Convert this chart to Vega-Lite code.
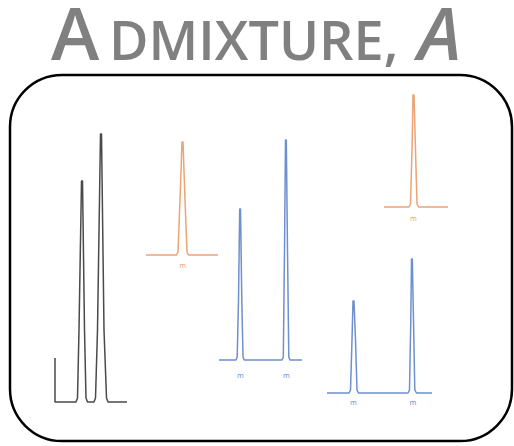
{
  "$schema": "https://vega.github.io/schema/vega-lite/v6.json",
  "width": 514,
  "height": 446,
  "padding": 0,
  "autosize": {"type": "fit", "contains": "padding"},
  "background": "white",
  "config": {"view": {"stroke": null}},
  "datasets": {
    "traces": [
      {"trace": "black", "i": 1, "x": 55, "y": 358},
      {"trace": "black", "i": 2, "x": 55, "y": 402},
      {"trace": "black", "i": 3, "x": 76, "y": 402},
      {"trace": "black", "i": 4, "x": 77.5, "y": 398},
      {"trace": "black", "i": 5, "x": 79, "y": 330},
      {"trace": "black", "i": 6, "x": 81.5, "y": 181},
      {"trace": "black", "i": 7, "x": 82.5, "y": 181},
      {"trace": "black", "i": 8, "x": 84.5, "y": 330},
      {"trace": "black", "i": 9, "x": 86, "y": 398},
      {"trace": "black", "i": 10, "x": 87.5, "y": 402},
      {"trace": "black", "i": 11, "x": 94, "y": 402},
      {"trace": "black", "i": 12, "x": 95.5, "y": 398},
      {"trace": "black", "i": 13, "x": 97.5, "y": 330},
      {"trace": "black", "i": 14, "x": 100.5, "y": 134},
      {"trace": "black", "i": 15, "x": 101.5, "y": 134},
      {"trace": "black", "i": 16, "x": 104, "y": 330},
      {"trace": "black", "i": 17, "x": 106.5, "y": 398},
      {"trace": "black", "i": 18, "x": 108, "y": 402},
      {"trace": "black", "i": 19, "x": 127, "y": 402},

      {"trace": "orange1", "i": 1, "x": 146, "y": 255},
      {"trace": "orange1", "i": 2, "x": 176.5, "y": 255},
      {"trace": "orange1", "i": 3, "x": 178, "y": 252},
      {"trace": "orange1", "i": 4, "x": 180, "y": 200},
      {"trace": "orange1", "i": 5, "x": 182, "y": 142},
      {"trace": "orange1", "i": 6, "x": 183, "y": 142},
      {"trace": "orange1", "i": 7, "x": 185, "y": 200},
      {"trace": "orange1", "i": 8, "x": 187, "y": 252},
      {"trace": "orange1", "i": 9, "x": 188.5, "y": 255},
      {"trace": "orange1", "i": 10, "x": 218, "y": 255},

      {"trace": "blue1", "i": 1, "x": 219, "y": 360},
      {"trace": "blue1", "i": 2, "x": 236, "y": 360},
      {"trace": "blue1", "i": 3, "x": 237.2, "y": 357},
      {"trace": "blue1", "i": 4, "x": 238.5, "y": 300},
      {"trace": "blue1", "i": 5, "x": 239.7, "y": 209},
      {"trace": "blue1", "i": 6, "x": 240.5, "y": 209},
      {"trace": "blue1", "i": 7, "x": 241.8, "y": 300},
      {"trace": "blue1", "i": 8, "x": 243, "y": 357},
      {"trace": "blue1", "i": 9, "x": 244.3, "y": 360},
      {"trace": "blue1", "i": 10, "x": 282, "y": 360},
      {"trace": "blue1", "i": 11, "x": 283.3, "y": 357},
      {"trace": "blue1", "i": 12, "x": 284.5, "y": 250},
      {"trace": "blue1", "i": 13, "x": 285.5, "y": 140},
      {"trace": "blue1", "i": 14, "x": 286.3, "y": 140},
      {"trace": "blue1", "i": 15, "x": 287.5, "y": 250},
      {"trace": "blue1", "i": 16, "x": 288.8, "y": 357},
      {"trace": "blue1", "i": 17, "x": 290, "y": 360},
      {"trace": "blue1", "i": 18, "x": 302, "y": 360},

      {"trace": "blue2", "i": 1, "x": 327, "y": 393},
      {"trace": "blue2", "i": 2, "x": 349, "y": 393},
      {"trace": "blue2", "i": 3, "x": 350.5, "y": 390},
      {"trace": "blue2", "i": 4, "x": 352, "y": 340},
      {"trace": "blue2", "i": 5, "x": 353, "y": 301},
      {"trace": "blue2", "i": 6, "x": 354, "y": 301},
      {"trace": "blue2", "i": 7, "x": 355.5, "y": 340},
      {"trace": "blue2", "i": 8, "x": 357, "y": 390},
      {"trace": "blue2", "i": 9, "x": 358.5, "y": 393},
      {"trace": "blue2", "i": 10, "x": 408, "y": 393},
      {"trace": "blue2", "i": 11, "x": 409.5, "y": 390},
      {"trace": "blue2", "i": 12, "x": 410.8, "y": 320},
      {"trace": "blue2", "i": 13, "x": 411.5, "y": 259},
      {"trace": "blue2", "i": 14, "x": 412.3, "y": 259},
      {"trace": "blue2", "i": 15, "x": 413.5, "y": 320},
      {"trace": "blue2", "i": 16, "x": 414.8, "y": 390},
      {"trace": "blue2", "i": 17, "x": 416.5, "y": 393},
      {"trace": "blue2", "i": 18, "x": 432, "y": 393},

      {"trace": "orange2", "i": 1, "x": 384, "y": 207},
      {"trace": "orange2", "i": 2, "x": 409, "y": 207},
      {"trace": "orange2", "i": 3, "x": 410.5, "y": 204},
      {"trace": "orange2", "i": 4, "x": 412, "y": 150},
      {"trace": "orange2", "i": 5, "x": 413, "y": 95},
      {"trace": "orange2", "i": 6, "x": 414, "y": 95},
      {"trace": "orange2", "i": 7, "x": 415.5, "y": 150},
      {"trace": "orange2", "i": 8, "x": 417, "y": 204},
      {"trace": "orange2", "i": 9, "x": 418.5, "y": 207},
      {"trace": "orange2", "i": 10, "x": 448, "y": 207}
    ],
    "labels": [
      {"trace": "orange1", "x": 182.7, "y": 266, "t": "m"},
      {"trace": "blue1", "x": 240.5, "y": 376, "t": "m"},
      {"trace": "blue1", "x": 286.3, "y": 376, "t": "m"},
      {"trace": "blue2", "x": 353.3, "y": 403, "t": "m"},
      {"trace": "blue2", "x": 412.8, "y": 403, "t": "m"},
      {"trace": "orange2", "x": 413.5, "y": 219, "t": "m"}
    ],
    "box": [{"x": 10, "x2": 512, "y": 75, "y2": 441}],
    "title": [
      {"x": 75, "y": 60, "t": "A", "part": "big"},
      {"x": 109, "y": 60, "t": "DMIXTURE,", "part": "small"},
      {"x": 418, "y": 60, "t": "A", "part": "italic"}
    ]
  },
  "layer": [
    {
      "data": {"name": "box"},
      "mark": {"type": "rect", "cornerRadius": 52, "fill": "transparent", "stroke": "#000000", "strokeWidth": 2.5},
      "encoding": {
        "x": {"field": "x", "type": "quantitative", "scale": {"domain": [0, 514], "nice": false, "zero": false}, "axis": null},
        "x2": {"field": "x2"},
        "y": {"field": "y", "type": "quantitative", "scale": {"domain": [0, 446], "reverse": true, "nice": false, "zero": false}, "axis": null},
        "y2": {"field": "y2"}
      }
    },
    {
      "data": {"name": "traces"},
      "mark": {"type": "line", "strokeWidth": 1.5, "strokeJoin": "round"},
      "encoding": {
        "x": {"field": "x", "type": "quantitative", "axis": null},
        "y": {"field": "y", "type": "quantitative", "axis": null},
        "detail": {"field": "trace"},
        "order": {"field": "i", "type": "quantitative"},
        "color": {"field": "trace", "type": "nominal", "legend": null,
          "scale": {"domain": ["black", "orange1", "orange2", "blue1", "blue2"], "range": ["#4a4a4a", "#eba475", "#eba475", "#6f8fcf", "#6f8fcf"]}}
      }
    },
    {
      "data": {"name": "labels"},
      "mark": {"type": "text", "fontSize": 7, "font": "DejaVu Sans", "baseline": "middle", "align": "center"},
      "encoding": {
        "x": {"field": "x", "type": "quantitative", "axis": null},
        "y": {"field": "y", "type": "quantitative", "axis": null},
        "text": {"field": "t"},
        "color": {"field": "trace", "type": "nominal", "legend": null}
      }
    },
    {
      "data": {"name": "title"},
      "transform": [{"filter": "datum.part == 'big'"}],
      "mark": {"type": "text", "fontSize": 73, "font": "Open Sans", "fontWeight": 600, "color": "#808080", "baseline": "alphabetic", "align": "center"},
      "encoding": {
        "x": {"field": "x", "type": "quantitative", "axis": null},
        "y": {"field": "y", "type": "quantitative", "axis": null},
        "text": {"field": "t"}
      }
    },
    {
      "data": {"name": "title"},
      "transform": [{"filter": "datum.part == 'small'"}],
      "mark": {"type": "text", "fontSize": 54, "font": "Open Sans", "fontWeight": 600, "color": "#808080", "baseline": "alphabetic", "align": "left"},
      "encoding": {
        "x": {"field": "x", "type": "quantitative", "axis": null},
        "y": {"field": "y", "type": "quantitative", "axis": null},
        "text": {"field": "t"}
      }
    },
    {
      "data": {"name": "title"},
      "transform": [{"filter": "datum.part == 'italic'"}],
      "mark": {"type": "text", "fontSize": 73, "font": "Open Sans", "fontWeight": 600, "fontStyle": "italic", "color": "#808080", "baseline": "alphabetic", "align": "left"},
      "encoding": {
        "x": {"field": "x", "type": "quantitative", "axis": null},
        "y": {"field": "y", "type": "quantitative", "axis": null},
        "text": {"field": "t"}
      }
    }
  ]
}
